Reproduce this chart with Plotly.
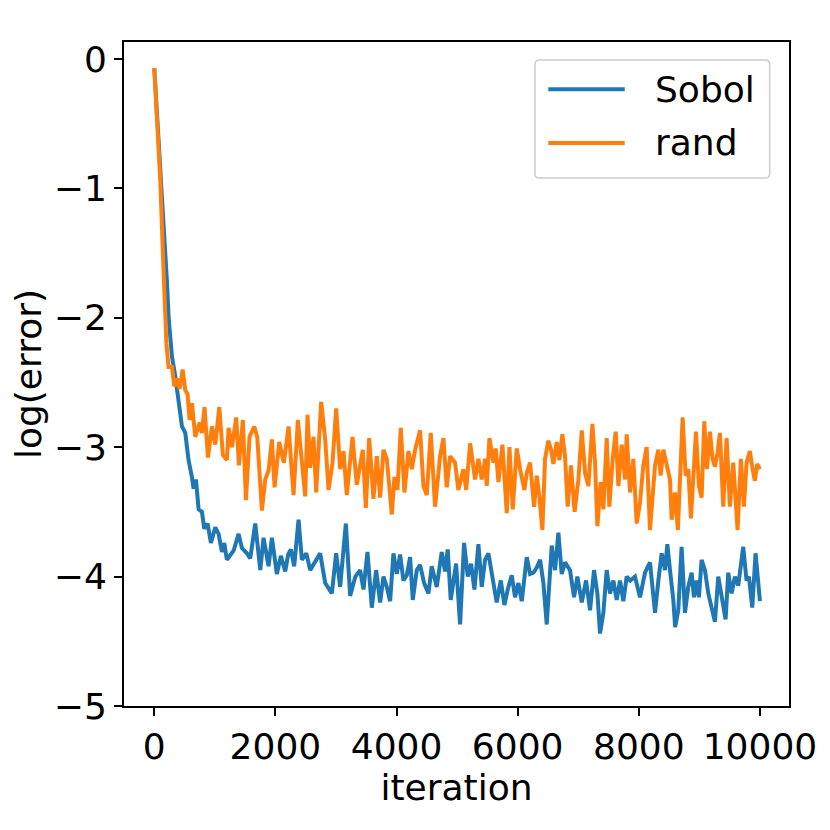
import plotly.graph_objects as go

# values (iteration, log(error))
sobol_iter = [0, 50, 100, 150, 185, 209, 237, 292, 346, 402, 457, 512, 566, 621, 649, 688, 732, 787, 825, 880,
              935, 1007, 1062, 1117, 1155, 1199, 1254, 1309, 1392, 1447, 1529, 1584, 1667, 1750, 1804, 1887, 1942,
              2024, 2090, 2162, 2210, 2255, 2310, 2382, 2437, 2510, 2574, 2655, 2739, 2822, 2932, 3003, 3069, 3163,
              3234, 3320, 3399, 3454, 3520, 3592, 3663, 3729, 3784, 3839, 3894, 3949, 4004, 4059, 4114, 4169, 4224,
              4268, 4334, 4389, 4455, 4527, 4581, 4664, 4746, 4801, 4845, 4895, 4983, 5049, 5115, 5176, 5230, 5286,
              5352, 5407, 5462, 5517, 5572, 5654, 5721, 5781, 5836, 5902, 5957, 6012, 6067, 6150, 6205, 6260, 6315,
              6370, 6425, 6480, 6562, 6617, 6672, 6727, 6782, 6864, 6931, 6986, 7058, 7129, 7195, 7261, 7316, 7360,
              7415, 7470, 7525, 7580, 7635, 7690, 7745, 7800, 7860, 7937, 8020, 8102, 8185, 8268, 8323, 8378, 8433,
              8471, 8515, 8570, 8600, 8652, 8707, 8762, 8817, 8872, 8911, 8955, 8993, 9037, 9092, 9147, 9202, 9257,
              9312, 9367, 9433, 9477, 9532, 9587, 9642, 9724, 9779, 9818, 9873, 9928, 10000]
sobol_err = [-0.07, -0.45, -0.85, -1.15, -1.45, -1.72, -2.0, -2.30, -2.45, -2.64, -2.84, -2.89, -3.10, -3.23, -3.32,
             -3.25, -3.48, -3.50, -3.63, -3.59, -3.74, -3.62, -3.67, -3.81, -3.74, -3.87, -3.83, -3.80, -3.67, -3.78,
             -3.82, -3.86, -3.59, -3.95, -3.70, -3.92, -3.70, -3.98, -3.84, -3.96, -3.83, -3.79, -3.92, -3.56, -3.87,
             -3.82, -3.95, -3.89, -3.82, -4.05, -4.13, -3.82, -4.08, -3.59, -4.15, -4.00, -3.95, -4.10, -3.81, -4.24,
             -3.95, -4.20, -4.00, -4.08, -4.19, -3.82, -3.98, -3.83, -4.03, -3.99, -3.85, -4.18, -3.95, -3.91, -4.05,
             -4.13, -3.92, -4.08, -3.81, -3.96, -3.79, -4.18, -3.90, -4.37, -3.74, -4.00, -3.90, -4.10, -3.75, -4.08,
             -3.87, -3.82, -3.98, -4.20, -4.03, -4.22, -4.10, -3.99, -4.16, -4.05, -4.19, -3.85, -3.98, -3.97, -3.93,
             -3.87, -4.05, -4.37, -3.76, -3.95, -3.66, -3.98, -3.89, -3.95, -4.16, -4.00, -4.20, -4.03, -4.26, -3.95,
             -4.13, -4.44, -4.28, -3.95, -4.13, -4.03, -4.18, -4.03, -4.19, -4.00, -4.03, -4.00, -4.16, -3.97, -3.89,
             -4.28, -4.03, -3.82, -3.95, -3.75, -3.95, -4.18, -4.39, -4.26, -3.77, -4.28, -4.08, -3.97, -4.16, -4.03,
             -4.16, -3.87, -3.95, -4.13, -4.24, -4.35, -4.00, -4.16, -4.33, -3.97, -4.13, -4.00, -4.07, -3.77, -4.03,
             -4.00, -4.24, -3.82, -4.19]

rand_iter = [0, 50, 100, 150, 185, 200, 236, 292, 330, 374, 418, 468, 512, 550, 583, 622, 677, 748, 786, 830, 886,
             952, 1007, 1073, 1133, 1199, 1227, 1282, 1353, 1397, 1463, 1513, 1573, 1650, 1700, 1777, 1832, 1887,
             1942, 1986, 2063, 2140, 2217, 2299, 2371, 2437, 2492, 2530, 2574, 2629, 2673, 2756, 2822, 2877, 2943,
             3003, 3069, 3124, 3179, 3273, 3344, 3443, 3493, 3548, 3619, 3674, 3729, 3784, 3839, 3922, 3966, 4015,
             4070, 4130, 4197, 4252, 4307, 4389, 4444, 4499, 4565, 4636, 4719, 4774, 4829, 4884, 4966, 5021, 5104,
             5150, 5215, 5297, 5352, 5407, 5462, 5490, 5534, 5600, 5638, 5682, 5748, 5820, 5864, 5919, 5985, 6040,
             6111, 6150, 6205, 6271, 6315, 6358, 6408, 6452, 6507, 6551, 6590, 6645, 6689, 6738, 6782, 6826, 6881,
             6940, 7003, 7058, 7113, 7168, 7234, 7278, 7316, 7371, 7415, 7470, 7514, 7569, 7619, 7663, 7718, 7773,
             7800, 7855, 7910, 7965, 8020, 8075, 8130, 8185, 8268, 8323, 8361, 8405, 8460, 8515, 8543, 8598, 8645,
             8690, 8724, 8773, 8817, 8861, 8900, 8944, 8993, 9037, 9081, 9125, 9175, 9218, 9257, 9301, 9340, 9394,
             9450, 9504, 9560, 9631, 9686, 9735, 9780, 9834, 9879, 9917, 9955, 10000]
rand_err = [-0.07, -0.45, -0.95, -1.60, -2.00, -2.20, -2.38, -2.38, -2.53, -2.47, -2.55, -2.40, -2.56, -2.59, -2.79,
            -2.66, -2.92, -2.81, -2.89, -2.69, -3.08, -2.84, -2.98, -2.69, -3.06, -3.10, -2.85, -3.00, -2.77, -3.14,
            -2.79, -3.41, -2.92, -2.84, -2.92, -3.49, -3.25, -3.18, -2.94, -3.31, -2.96, -3.12, -2.84, -3.37, -2.79,
            -3.09, -3.38, -2.75, -3.16, -2.92, -3.35, -2.65, -2.94, -3.33, -3.12, -2.70, -3.17, -3.03, -3.37, -2.92,
            -3.29, -3.02, -3.47, -2.93, -3.40, -3.07, -3.39, -3.02, -3.09, -3.52, -3.23, -3.33, -2.85, -3.35, -3.03,
            -3.17, -3.02, -2.87, -3.30, -3.37, -2.89, -3.46, -3.07, -2.93, -3.31, -3.07, -3.12, -3.33, -3.17, -3.33,
            -2.97, -3.25, -3.09, -3.25, -3.09, -3.30, -2.93, -3.12, -3.01, -3.27, -2.98, -3.51, -3.00, -3.48, -3.01,
            -3.17, -3.33, -3.20, -3.12, -3.46, -3.22, -3.38, -3.64, -3.09, -2.95, -3.02, -3.13, -2.96, -3.10, -2.90,
            -3.07, -3.46, -3.14, -3.50, -3.25, -2.87, -3.20, -3.30, -2.82, -3.12, -3.61, -3.27, -3.48, -2.93, -3.46,
            -3.09, -2.88, -3.30, -2.98, -3.25, -2.90, -3.35, -3.09, -3.59, -3.43, -3.14, -3.00, -3.64, -3.14, -3.02,
            -3.22, -3.02, -3.12, -3.25, -3.56, -3.35, -3.64, -3.10, -2.77, -3.22, -3.17, -3.55, -3.22, -2.88, -3.30,
            -3.39, -2.80, -3.17, -2.88, -3.09, -3.15, -3.04, -2.89, -3.46, -2.93, -3.46, -3.12, -3.64, -3.09, -3.46,
            -3.12, -3.03, -3.17, -3.26, -3.13, -3.17]

x_ticks = [0, 2000, 4000, 6000, 8000, 10000]
y_ticks = [0, -1, -2, -3, -4, -5]
y_tick_text = ["0", "\u22121", "\u22122", "\u22123", "\u22124", "\u22125"]

blue = "#1f77b4"
orange = "#ff7f0e"
font = "DejaVu Sans"

fig = go.Figure()
fig.add_trace(go.Scatter(x=sobol_iter, y=sobol_err, mode="lines", name="Sobol",
                         line=dict(color=blue, width=4)))
fig.add_trace(go.Scatter(x=rand_iter, y=rand_err, mode="lines", name="rand",
                         line=dict(color=orange, width=4)))

axis_style = dict(showline=True, linecolor="black", linewidth=2, mirror=True, showgrid=False, zeroline=False,
                  ticks="outside", ticklen=8, tickwidth=2, tickcolor="black",
                  tickfont=dict(family=font, size=36, color="black"))

fig.update_xaxes(range=[-500, 10480], tickvals=x_ticks, ticktext=[str(t) for t in x_ticks],
                 title=dict(text="iteration", font=dict(family=font, size=36, color="black"), standoff=0),
                 **axis_style)
fig.update_yaxes(range=[-5, 0.131], tickvals=y_ticks, ticktext=y_tick_text,
                 title=dict(text="log(error)", font=dict(family=font, size=36, color="black"), standoff=10),
                 **axis_style)

# matplotlib-like legend box in the upper right
r = 0.007
x0, x1, y0, y1 = 0.618, 0.971, 0.795, 0.973
legend_path = (f"M {x0 + r},{y0} L {x1 - r},{y0} Q {x1},{y0} {x1},{y0 + r} L {x1},{y1 - r} "
               f"Q {x1},{y1} {x1 - r},{y1} L {x0 + r},{y1} Q {x0},{y1} {x0},{y1 - r} "
               f"L {x0},{y0 + r} Q {x0},{y0} {x0 + r},{y0} Z")
fig.add_shape(type="path", path=legend_path, xref="paper", yref="paper",
              line=dict(color="#cccccc", width=1.5), fillcolor="rgba(255,255,255,0.8)")
for name, color, ly in [("Sobol", blue, 0.929), ("rand", orange, 0.848)]:
    fig.add_shape(type="line", xref="paper", yref="paper", x0=0.638, x1=0.753, y0=ly, y1=ly,
                  line=dict(color=color, width=4))
    fig.add_annotation(text=name, xref="paper", yref="paper", x=0.795, y=ly, xanchor="left", yanchor="middle",
                       showarrow=False, font=dict(family=font, size=36, color="black"))

# the page adds an 8px body margin, so the plot box is shifted back by that much
fig.update_layout(width=830, height=830, margin=dict(l=116, r=49, t=34, b=132),
                  paper_bgcolor="white", plot_bgcolor="white", showlegend=False)

fig.write_html("out.html")
